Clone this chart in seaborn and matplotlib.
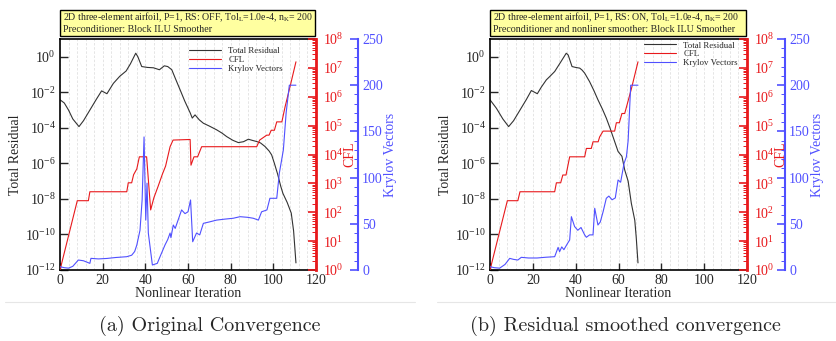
import numpy as np
import pandas as pd
import matplotlib
matplotlib.use("Agg")
import matplotlib.pyplot as plt
import seaborn as sns
from matplotlib.ticker import MultipleLocator, LogLocator, NullLocator, FixedLocator, FixedFormatter, NullFormatter
from matplotlib.patches import Rectangle
from matplotlib.lines import Line2D

# ---------------- data ----------------
# Panel (a): original convergence
a_res_it = [0, 2, 4, 6, 8.9, 11, 14, 17, 19.5, 22, 25, 28, 31, 33, 35.5, 36.5, 38.3, 41, 43.8, 46.6,
            48.9, 50.5, 52.4, 54, 56.3, 58.5, 61, 62, 63.3, 65.3, 67.2, 70, 73.4, 76, 78.1, 81, 83.6,
            86, 88.3, 90, 92.2, 94, 96.1, 98, 99.2, 100.5, 102, 103.5, 104.5, 106.5, 108.4, 109.5, 110.6]
a_res_log = [-2.42, -2.6, -3.0, -3.5, -3.93, -3.6, -3.0, -2.4, -1.92, -2.08, -1.5, -1.1, -0.8, -0.4, 0.2,
             0.0, -0.55, -0.6, -0.62, -0.73, -0.51, -0.55, -0.73, -1.2, -1.86, -2.5, -3.15, -3.45, -3.27,
             -3.55, -3.74, -3.9, -4.11, -4.3, -4.49, -4.7, -4.83, -4.78, -4.64, -4.7, -4.77, -4.85, -5.05,
             -5.3, -5.52, -6.0, -6.6, -7.3, -7.69, -8.2, -8.8, -9.8, -11.6]

a_cfl_it = [0, 8.1, 13.3, 14, 31.3, 32, 33.6, 34.5, 36, 37.2, 40.6, 42.5, 44, 46, 48, 49.5, 51.6, 53,
            61, 61.4, 62.8, 64.5, 66.4, 92.2, 93.6, 96.9, 98, 99, 100.5, 101.6, 104, 105.5, 107.8, 110.6]
a_cfl_log = [0, 2.4, 2.4, 2.71, 2.71, 3.02, 3.02, 3.3, 3.5, 3.92, 3.92, 2.08, 2.5, 2.9, 3.32, 3.6, 4.27,
             4.5, 4.52, 3.63, 3.92, 3.92, 4.27, 4.27, 4.5, 4.67, 4.67, 4.84, 4.84, 5.13, 5.13, 5.65, 6.34, 7.21]

a_kry_it = [0, 2, 4, 6, 8.6, 11, 14, 14.5, 18, 22, 26, 29, 31.3, 33.6, 35, 36, 37.5, 38.5, 39.4, 40.2,
            40.8, 41.4, 43.3, 45.6, 47, 49.2, 50.5, 51.6, 52, 53.1, 54, 57, 58.6, 60, 61.2, 62.2, 64,
            65.5, 67.2, 70, 73.4, 77, 81.2, 84.4, 88, 90.6, 93, 94.5, 97, 98.4, 101.6, 102.8, 104.7,
            106, 107.5, 110.6]
a_kry = [3.6, 2.5, 2, 4, 10.8, 10, 7.2, 12.6, 12, 12.5, 13.5, 14, 14.4, 16, 20, 27, 43, 76, 144, 54,
         94, 40, 5.4, 7.2, 15, 27, 33, 40, 35, 48.7, 45, 65, 61, 63, 75.8, 30.6, 40, 38, 50.5, 52, 54,
         55, 56, 57.7, 57, 56, 54, 63, 65, 77.6, 77.6, 104.6, 130, 170, 200, 200]

# Panel (b): residual smoothed convergence
b_res_it = [0, 3, 6, 8.7, 11, 14, 17, 19.3, 22.1, 24, 26.3, 28, 30.2, 33, 35.6, 36.5, 38.3, 40, 41.9,
            43, 44.2, 46.5, 48.5, 50.4, 52.5, 54.3, 56, 57.4, 59.8, 61.6, 62.9, 64.5, 66, 67.6, 68.3, 69.1]
b_res_log = [-2.42, -2.9, -3.5, -3.93, -3.6, -3.0, -2.4, -1.9, -2.08, -1.7, -1.3, -1.1, -0.83, -0.3,
             0.2, 0.1, -0.55, -0.6, -0.64, -0.75, -0.92, -1.4, -1.9, -2.42, -2.95, -3.45, -4.0, -4.49,
             -5.33, -5.6, -6.37, -7.0, -8.25, -9.2, -10.2, -11.6]

b_cfl_it = [0, 8.1, 13, 14, 30.2, 31, 33, 34, 35.5, 37.2, 44.2, 45, 47.3, 48.1, 50.5, 51.2, 52.8,
            58.2, 59, 60.4, 61.6, 62.9, 66, 69.1]
b_cfl_log = [0, 2.4, 2.4, 2.71, 2.71, 3.02, 3.02, 3.29, 3.29, 3.92, 3.92, 4.21, 4.21, 4.44, 4.44,
             4.61, 4.81, 4.81, 5.1, 5.1, 5.42, 5.42, 6.27, 7.21]

b_kry_it = [0, 2, 4.5, 7, 9.2, 11, 13, 14.6, 18, 22, 26, 30.2, 31.8, 32.5, 33.5, 34.5, 36, 37.2, 38,
            39.5, 41, 42.5, 44.2, 45, 46.5, 48.1, 48.9, 50.4, 51.5, 52.8, 54.3, 55.5, 57, 58.5, 59.8,
            61, 62.6, 63.7, 64.5, 65.7, 69.1]
b_kry = [3.6, 2.5, 2, 6, 12.6, 11.5, 10.8, 13.7, 13, 13, 13.8, 14.4, 24.5, 19.8, 25, 22, 28, 32.5,
         57.7, 47, 43, 46, 38, 35.4, 38, 38, 66.8, 48.7, 52, 63, 77.6, 80, 76, 78, 97.4, 95, 115.5,
         122.6, 140, 200, 200]

titles_line1 = ["2D three-element airfoil, P=1, RS: OFF, Tol$_\\mathrm{L}$=1.0e-4, n$_\\mathrm{K}$= 200",
                "2D three-element airfoil, P=1, RS: ON, Tol$_\\mathrm{L}$=1.0e-4, n$_\\mathrm{K}$= 200"]
titles_line2 = ["Preconditioner: Block ILU Smoother",
                "Preconditioner and nonliner smoother: Block ILU Smoother"]
captions = ["(a) Original Convergence", "(b) Residual smoothed convergence"]
series_names = ["Total Residual", "CFL", "Krylov Vectors"]
x_ticks = [0, 20, 40, 60, 80, 100, 120]
res_ticks_exp = [-12, -10, -8, -6, -4, -2, 0]
cfl_ticks_exp = [0, 1, 2, 3, 4, 5, 6, 7, 8]
kry_ticks = [0, 50, 100, 150, 200, 250]

# ---------------- style ----------------
sns.set_theme(style="white")
plt.rcParams["font.family"] = ["Liberation Serif", "DejaVu Serif"]
plt.rcParams["mathtext.fontset"] = "custom"
plt.rcParams["mathtext.rm"] = "Liberation Serif"
plt.rcParams["mathtext.it"] = "Liberation Serif:italic"
plt.rcParams["mathtext.bf"] = "Liberation Serif:bold"

RED = "#e8191c"
BLUE = "#5050ff"
BLACK_LINE = "#333333"

fig = plt.figure(figsize=(8.36, 3.41), dpi=100)
W, H = 836.0, 341.0

panels = [
    dict(x0=60, x1=316, blue_pos=(358 - 60) / 256.0, res=(a_res_it, a_res_log), cfl=(a_cfl_it, a_cfl_log),
         kry=(a_kry_it, a_kry), leg=(0.505, 0.965), cap_x=210),
    dict(x0=490, x1=747, blue_pos=(785 - 490) / 257.0, res=(b_res_it, b_res_log), cfl=(b_cfl_it, b_cfl_log),
         kry=(b_kry_it, b_kry), leg=(0.6, 0.99), cap_x=625),
]
y_top, y_bot = 39, 270

for i, p in enumerate(panels):
    ax = fig.add_axes([p["x0"] / W, 1 - y_bot / H, (p["x1"] - p["x0"]) / W, (y_bot - y_top) / H])
    ax2 = ax.twinx()
    ax3 = ax.twinx()

    df_res = pd.DataFrame({"it": p["res"][0], "val": 10.0 ** np.array(p["res"][1])})
    df_cfl = pd.DataFrame({"it": p["cfl"][0], "val": 10.0 ** np.array(p["cfl"][1])})
    df_kry = pd.DataFrame({"it": p["kry"][0], "val": p["kry"][1]})

    sns.lineplot(data=df_res, x="it", y="val", ax=ax, color=BLACK_LINE, lw=0.8, sort=False, estimator=None)
    sns.lineplot(data=df_cfl, x="it", y="val", ax=ax2, color=RED, lw=0.8, sort=False, estimator=None)
    sns.lineplot(data=df_kry, x="it", y="val", ax=ax3, color=BLUE, lw=0.8, sort=False, estimator=None)

    # main axis
    ax.set_xlim(0, 120)
    ax.set_yscale("log")
    ax.set_ylim(1e-12, 1e1)
    ax.set_xticks(x_ticks)
    ax.set_xticklabels([str(t) for t in x_ticks], fontsize=10)
    ax.xaxis.set_minor_locator(MultipleLocator(4))
    ax.grid(which="minor", axis="x", color="#e0e0e0", lw=0.6, ls=(0, (3, 2)))
    ax.grid(which="major", axis="x", color="#e0e0e0", lw=0.6, ls=(0, (3, 2)))
    ax.yaxis.set_major_locator(FixedLocator([10.0 ** e for e in res_ticks_exp]))
    ax.yaxis.set_major_formatter(FixedFormatter(["$10^{%d}$" % e for e in res_ticks_exp]))
    ax.yaxis.set_minor_locator(NullLocator())
    ax.tick_params(axis="y", which="major", direction="in", length=6, width=1.0, labelsize=10, pad=3, left=True)
    ax.tick_params(axis="x", which="major", direction="in", length=5, width=1.0, labelsize=10, pad=3, bottom=True)
    ax.tick_params(axis="x", which="minor", length=0)
    ax.set_xlabel("Nonlinear Iteration", fontsize=10, labelpad=0)
    ax.set_ylabel("Total Residual", fontsize=10, labelpad=2)
    for s in ["left", "bottom", "top"]:
        ax.spines[s].set_color("black")
        ax.spines[s].set_linewidth(1.2)
    ax.spines["right"].set_visible(False)

    # CFL axis
    ax2.set_yscale("log")
    ax2.set_ylim(1, 1e8)
    ax2.yaxis.set_major_locator(FixedLocator([10.0 ** e for e in cfl_ticks_exp]))
    ax2.yaxis.set_major_formatter(FixedFormatter(["$10^{%d}$" % e for e in cfl_ticks_exp]))
    ax2.yaxis.set_minor_locator(LogLocator(base=10, subs=np.arange(2, 10), numticks=20))
    ax2.yaxis.set_minor_formatter(NullFormatter())
    ax2.tick_params(axis="y", which="major", direction="in", length=6, width=1.2, colors=RED, labelsize=10, pad=5)
    ax2.tick_params(axis="y", which="minor", direction="in", length=3, width=0.7, colors=RED)
    ax2.set_ylabel("CFL", color=RED, fontsize=10, labelpad=0)
    ax2.spines["right"].set_color(RED)
    ax2.spines["right"].set_linewidth(2.0)
    for s in ["left", "top", "bottom"]:
        ax2.spines[s].set_visible(False)

    # Krylov axis
    ax3.set_ylim(0, 250)
    ax3.spines["right"].set_position(("axes", p["blue_pos"]))
    ax3.yaxis.set_major_locator(FixedLocator(kry_ticks))
    ax3.yaxis.set_minor_locator(MultipleLocator(10))
    ax3.tick_params(axis="y", which="major", direction="in", length=6, width=1.2, colors=BLUE, labelsize=10, pad=3)
    ax3.tick_params(axis="y", which="minor", direction="in", length=3, width=0.7, colors=BLUE)
    ax3.set_ylabel("Krylov Vectors", color=BLUE, fontsize=10, labelpad=1)
    ax3.spines["right"].set_color(BLUE)
    ax3.spines["right"].set_linewidth(1.5)
    for s in ["left", "top", "bottom"]:
        ax3.spines[s].set_visible(False)

    # legend
    handles = [ax.get_lines()[0], ax2.get_lines()[0], ax3.get_lines()[0]]
    ax3.legend(handles, series_names, loc="upper left", bbox_to_anchor=p["leg"], bbox_transform=ax.transAxes,
               frameon=False, fontsize=6.4, handlelength=3.6, labelspacing=0.05, handletextpad=0.8,
               borderaxespad=0, borderpad=0)

    # title box
    rect = Rectangle((0.0, 1.013), 0.995, 0.113, transform=ax.transAxes, facecolor="#ffffa0",
                     edgecolor="black", lw=1.0, clip_on=False, zorder=5)
    ax.add_patch(rect)
    ax.text(0.012, 1.093, titles_line1[i], transform=ax.transAxes, fontsize=7.1, va="center", ha="left",
            zorder=6, clip_on=False)
    ax.text(0.012, 1.040, titles_line2[i], transform=ax.transAxes, fontsize=7.2, va="center", ha="left",
            zorder=6, clip_on=False)

    # caption
    fig.text(p["cap_x"] / W, 1 - 326 / H, captions[i], ha="center", va="center", fontsize=14.5,
             family=["cmr10", "DejaVu Serif"])

# faint subfigure separators
fig.add_artist(Line2D([5 / W, 415 / W], [1 - 302 / H, 1 - 302 / H], color="#e6e6e6", lw=0.8))
fig.add_artist(Line2D([437 / W, 836 / W], [1 - 302 / H, 1 - 302 / H], color="#e6e6e6", lw=0.8))

fig.savefig("out.png", dpi=100)
